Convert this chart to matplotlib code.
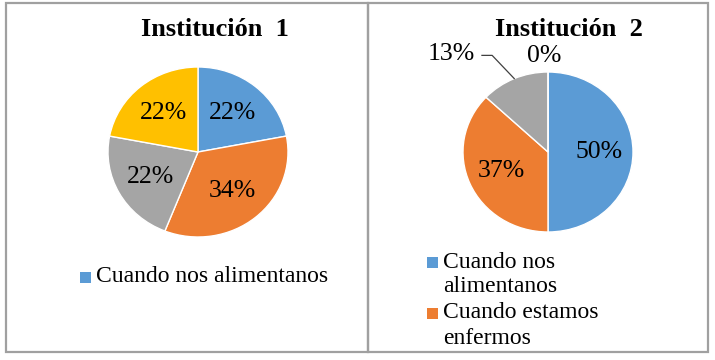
import matplotlib
matplotlib.use("Agg")
import numpy as np
import matplotlib.pyplot as plt
from matplotlib.patches import Rectangle

# data
titles = ["Institución  1", "Institución  2"]
inst1_values = [22, 34, 22, 22]
inst2_values = [50, 37, 13, 0]
inst1_legend = ["Cuando nos alimentanos"]
inst2_legend = ["Cuando nos\nalimentanos", "Cuando estamos\nenfermos"]
colors = ["#5B9BD5", "#ED7D31", "#A5A5A5", "#FFC000"]

W, H = 715, 360
plt.rcParams['font.family'] = ['Liberation Serif', 'DejaVu Serif']
fig = plt.figure(figsize=(W / 100, H / 100), dpi=100)

def fx(px):
    return px / W

def fy(py):
    return 1 - py / H

# panel borders
for x0, x1 in [(6, 368), (368, 708)]:
    fig.patches.append(Rectangle((fx(x0), fy(352)), fx(x1 - x0), (352 - 3) / H,
                                 transform=fig.transFigure, fill=False,
                                 edgecolor="#A0A0A0", linewidth=1.6))

def pie_axes(cx, cy, rx, ry):
    return fig.add_axes([fx(cx - rx), fy(cy + ry), fx(2 * rx), 2 * ry / H])

def draw_pie(ax, values):
    wedges, _ = ax.pie(values, colors=colors, startangle=90, counterclock=False,
                       wedgeprops=dict(edgecolor="white", linewidth=1))
    ax.set_aspect('auto')
    ax.set_xlim(-1, 1)
    ax.set_ylim(-1, 1)
    ax.axis('off')
    return wedges

def mid_dir(w):
    a = np.deg2rad((w.theta1 + w.theta2) / 2)
    return np.cos(a), np.sin(a)

# Institution 1
ax1 = pie_axes(198, 152, 90, 85)
w1 = draw_pie(ax1, inst1_values)
for w, v in zip(w1, inst1_values):
    c, s = mid_dir(w)
    ax1.text(0.6 * c, 0.6 * s, f"{v}%", ha="center", va="center", fontsize=18.5)

# Institution 2
ax2 = pie_axes(548, 152, 85, 80)
w2 = draw_pie(ax2, inst2_values)
for w, v in zip(w2, inst2_values):
    c, s = mid_dir(w)
    if v >= 20:
        ax2.text(0.6 * c, 0.6 * s, f"{v}%", ha="center", va="center", fontsize=18.5)
    elif v > 0:
        # leader line: diagonal from wedge edge, then short horizontal
        kx, ky = c - 0.26, s + 0.29
        ex = kx - 0.12
        ax2.plot([c, kx, ex], [s, ky, ky], color="#404040", lw=0.9, clip_on=False)
        ax2.text(ex - 0.08, ky + 0.02, f"{v}%", ha="right", va="center",
                 fontsize=18.5, clip_on=False)
    else:
        ax2.text(1.2 * c - 0.04, 1.2 * s, f"{v}%", ha="center", va="center",
                 fontsize=18.5, clip_on=False)

# titles
fig.text(fx(215), fy(30), titles[0], ha="center", va="center",
         fontsize=19, fontweight="bold")
fig.text(fx(569), fy(30), titles[1], ha="center", va="center",
         fontsize=19, fontweight="bold")

# legends (drawn by hand, square next to the first line of each label)
def legend_entry(x, yc, color, label):
    fig.patches.append(Rectangle((fx(x), fy(yc + 5.5)), fx(11), 11 / H,
                                 transform=fig.transFigure, facecolor=color,
                                 edgecolor="none"))
    for j, line in enumerate(label.split("\n")):
        fig.text(fx(x + 16), fy(yc + j * 25), line, ha="left", va="center",
                 fontsize=17)

for i, lab in enumerate(inst1_legend):
    legend_entry(80, 277, colors[i], lab)

for i, lab in enumerate(inst2_legend):
    legend_entry(427, 262 + i * 51, colors[i], lab)

fig.savefig("out.png", dpi=100)
